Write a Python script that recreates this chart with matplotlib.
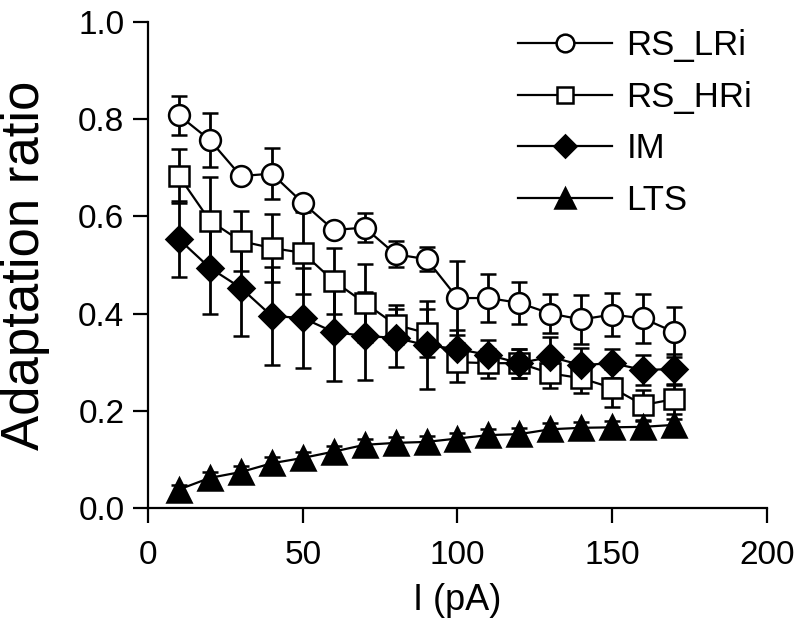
import numpy as np
import matplotlib.pyplot as plt

plt.rcParams['font.family'] = ['Liberation Sans', 'DejaVu Sans']

current = [10, 20, 30, 40, 50, 60, 70, 80, 90, 100, 110, 120, 130, 140, 150, 160, 170]

rs_lri = [0.808, 0.757, 0.683, 0.688, 0.628, 0.572, 0.577, 0.522, 0.512, 0.432, 0.432,
          0.422, 0.400, 0.388, 0.398, 0.390, 0.362]
rs_lri_err = [0.04, 0.055, 0.01, 0.053, 0.015, 0.012, 0.03, 0.027, 0.025, 0.077, 0.05,
              0.043, 0.04, 0.05, 0.045, 0.05, 0.052]

rs_hri = [0.683, 0.591, 0.549, 0.535, 0.525, 0.467, 0.422, 0.377, 0.36, 0.30, 0.298,
          0.298, 0.277, 0.267, 0.247, 0.212, 0.224]
rs_hri_err = [0.055, 0.09, 0.062, 0.07, 0.085, 0.068, 0.08, 0.04, 0.05, 0.04, 0.03,
              0.03, 0.03, 0.03, 0.04, 0.03, 0.03]

im = [0.553, 0.494, 0.453, 0.395, 0.391, 0.362, 0.354, 0.350, 0.335, 0.327, 0.315,
      0.298, 0.311, 0.294, 0.298, 0.284, 0.286]
im_err = [0.078, 0.095, 0.1, 0.1, 0.103, 0.1, 0.09, 0.06, 0.09, 0.04, 0.03,
          0.03, 0.04, 0.035, 0.03, 0.03, 0.03]

lts = [0.038, 0.062, 0.074, 0.092, 0.103, 0.116, 0.130, 0.134, 0.136, 0.143, 0.150,
       0.152, 0.162, 0.165, 0.166, 0.167, 0.171]
lts_err = [0.01, 0.012, 0.012, 0.012, 0.012, 0.012, 0.012, 0.012, 0.012, 0.012, 0.012,
           0.012, 0.012, 0.012, 0.012, 0.012, 0.012]

series = [
    ('RS_LRi', rs_lri, rs_lri_err, 'o', 'white', 15),
    ('RS_HRi', rs_hri, rs_hri_err, 's', 'white', 14),
    ('IM', im, im_err, 'D', 'black', 13),
    ('LTS', lts, lts_err, '^', 'black', 17),
]

fig = plt.figure(figsize=(8.03, 6.22), dpi=100)
ax = fig.add_axes([148 / 803, 1 - 508 / 622, 619 / 803, 486 / 622])

for name, y, err, marker, face, size in series:
    ax.errorbar(current, y, yerr=err, color='black', marker=marker, markersize=size,
                markerfacecolor=face, markeredgecolor='black', markeredgewidth=1.8,
                linewidth=1.6, elinewidth=2, capsize=6, capthick=2, label=name)

ax.set_xlim(0, 200)
ax.set_ylim(0, 1.0)
ax.set_xticks([0, 50, 100, 150, 200])
ax.set_yticks([0.0, 0.2, 0.4, 0.6, 0.8, 1.0])
ax.set_yticklabels(['0.0', '0.2', '0.4', '0.6', '0.8', '1.0'])
ax.spines['top'].set_visible(False)
ax.spines['right'].set_visible(False)
for s in ['left', 'bottom']:
    ax.spines[s].set_linewidth(1.6)
ax.tick_params(axis='both', length=11, width=1.6, labelsize=24, direction='out')
ax.tick_params(axis='y', pad=6)
ax.tick_params(axis='x', pad=12)
ax.set_xlabel('I (pA)', fontsize=26, labelpad=9)
ax.set_ylabel('Adaptation ratio', fontsize=38, labelpad=20)

handles, labels = ax.get_legend_handles_labels()
handles = [h[0] for h in handles]
fig.legend(handles, labels, loc='upper left', bbox_to_anchor=(518 / 803, 1 - 29 / 622),
           frameon=False, fontsize=25, handlelength=2.7, handletextpad=0.42,
           labelspacing=0.54, markerscale=0.85, borderpad=0, borderaxespad=0)

fig.savefig('out.png', dpi=100)
